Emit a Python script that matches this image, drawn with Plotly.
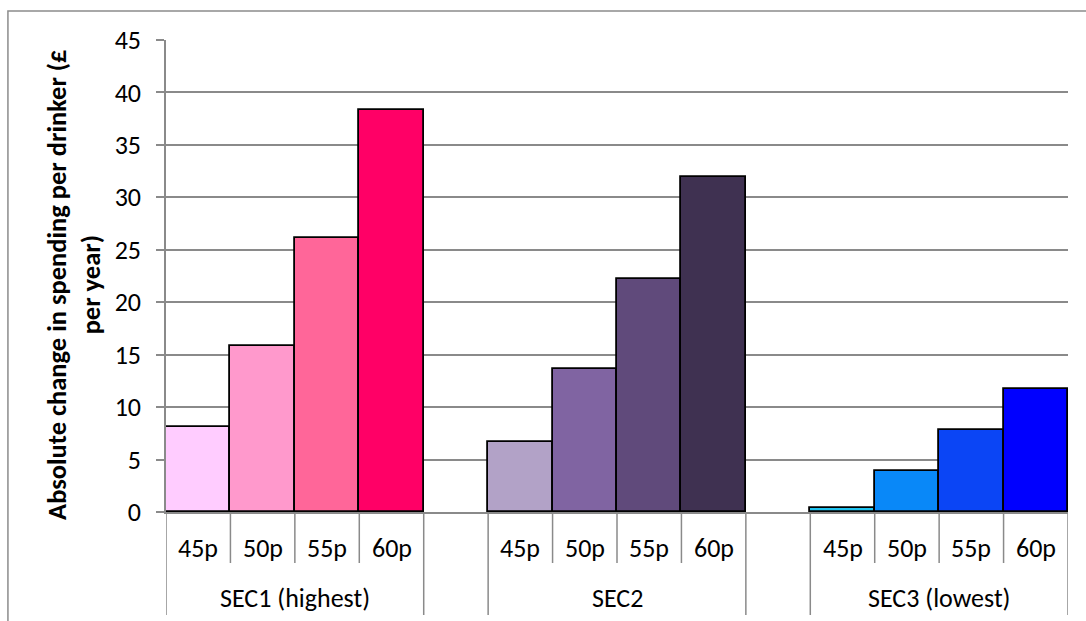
import plotly.graph_objects as go

# Values: absolute change in spending per drinker (£ per year)
groups = ["SEC1 (highest)", "SEC2", "SEC3 (lowest)"]
prices = ["45p", "50p", "55p", "60p"]
sec1 = [8.1, 15.8, 26.1, 38.3]
sec2 = [6.7, 13.6, 22.2, 31.9]
sec3 = [0.4, 3.9, 7.8, 11.7]
series = [sec1, sec2, sec3]

colors = [
    ["#FFCCFF", "#FF99CC", "#FF6699", "#FF0066"],
    ["#B2A2C7", "#8064A2", "#604A7B", "#3F3151"],
    ["#1FC4F0", "#0988F8", "#0B45F5", "#0000FF"],
]

FONT = "Carlito, Calibri, Lato, sans-serif"
GRID = "#8A8A8A"
FS = 26

# Each group occupies len(prices) slots followed by one empty slot
slot = len(prices) + 1
n_slots = len(groups) * slot - 1

fig = go.Figure()
for g, (name, vals) in enumerate(zip(groups, series)):
    xs = [g * slot + i for i in range(len(prices))]
    fig.add_trace(go.Bar(
        x=xs, y=vals, width=1.0, name=name,
        marker=dict(color=colors[g], line=dict(color="#000000", width=1.8)),
        showlegend=False, hoverinfo="y",
    ))

# Pixel heights of the two category label rows (in paper units of the plot height)
plot_h = 472.0
row1 = -51.0 / plot_h
row2 = -103.0 / plot_h

shapes = []
annotations = []
for g, name in enumerate(groups):
    start = g * slot - 0.5
    end = start + len(prices)
    # group boundaries span both label rows
    for xb in (start, end):
        shapes.append(dict(type="line", xref="x", yref="paper", x0=xb, x1=xb,
                           y0=0, y1=row2, line=dict(color=GRID, width=1.5)))
    # inner boundaries span the first row only
    for i in range(1, len(prices)):
        xb = start + i
        shapes.append(dict(type="line", xref="x", yref="paper", x0=xb, x1=xb,
                           y0=0, y1=row1, line=dict(color=GRID, width=1.5)))
    for i, p in enumerate(prices):
        annotations.append(dict(x=g * slot + i, y=-36.0 / plot_h, xref="x", yref="paper",
                                text=p, showarrow=False, xanchor="center", yanchor="middle",
                                font=dict(family=FONT, size=FS, color="#000000")))
    annotations.append(dict(x=(start + end) / 2, y=-86.0 / plot_h, xref="x", yref="paper",
                            text=name, showarrow=False, xanchor="center", yanchor="middle",
                            font=dict(family=FONT, size=FS, color="#000000")))

# y-axis title
annotations.append(dict(x=-92.0 / 901.6, y=0.481, xref="paper", yref="paper",
                        text="Absolute change in spending per drinker (£<br>per year)",
                        showarrow=False, textangle=-90, xanchor="center", yanchor="middle",
                        font=dict(family=FONT, size=26.5, color="#000000", weight="bold")))

# chart frame
shapes.append(dict(type="rect", xref="paper", yref="paper",
                   x0=-158.0 / 901.6, x1=1.2, y0=-0.4, y1=501.0 / plot_h,
                   line=dict(color="#8C8C8C", width=1.5), fillcolor="rgba(0,0,0,0)"))

fig.update_layout(
    width=1086, height=621,
    margin=dict(l=166, r=18.4, t=40, b=109),
    paper_bgcolor="white", plot_bgcolor="white",
    bargap=0,
    shapes=shapes, annotations=annotations,
    xaxis=dict(range=[-0.5, n_slots - 0.5], showticklabels=False, showgrid=False,
               zeroline=False, showline=True, linecolor=GRID, linewidth=1.5, ticks=""),
    yaxis=dict(range=[0, 45], dtick=5, showgrid=True, gridcolor=GRID, gridwidth=1.5,
               zeroline=False, showline=True, linecolor=GRID, linewidth=1.5,
               ticks="outside", ticklen=8, tickcolor=GRID, tickwidth=1.5,
               ticklabelstandoff=10,
               tickfont=dict(family=FONT, size=FS, color="#000000")),
)

fig.write_html("out.html")
